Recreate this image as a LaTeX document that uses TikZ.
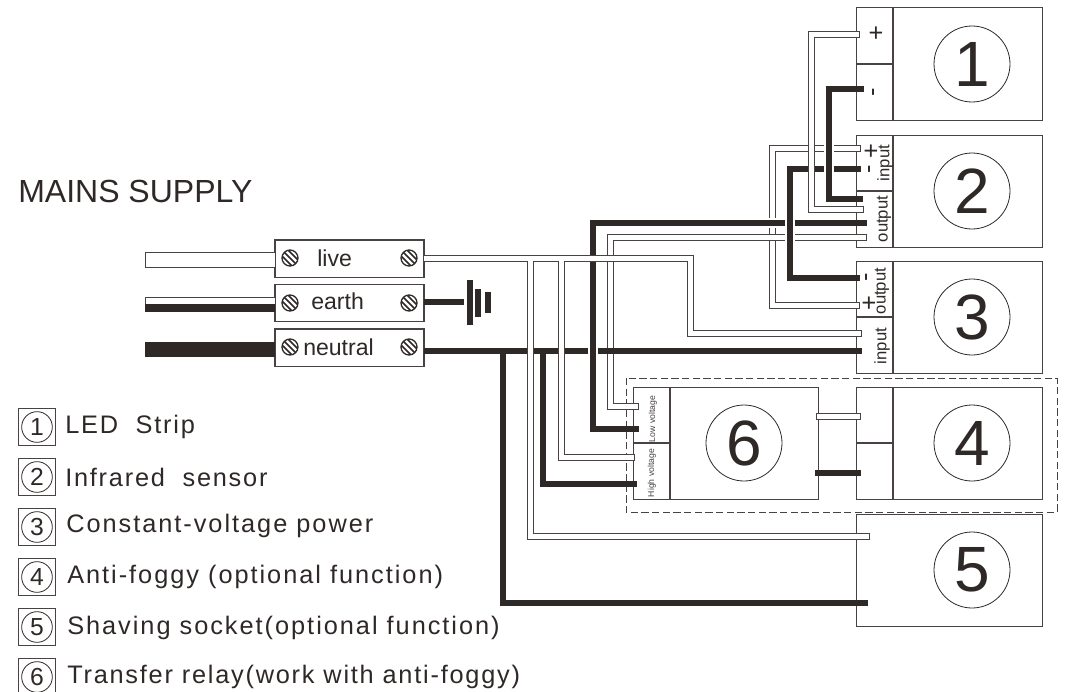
\documentclass[tikz,border=0pt]{standalone}
\usepackage{fontspec}
\setmainfont{Liberation Sans}
\newfontfamily\legendfont[LetterSpace=7]{Liberation Sans}
\newfontfamily\widelegendfont[LetterSpace=7.8]{Liberation Sans}
\usetikzlibrary{positioning,calc}
\definecolor{wirecolor}{HTML}{2E2826}
\definecolor{linecolor}{HTML}{484242}
\tikzset{
  unit/.style={draw=linecolor, line width=0.75pt, inner sep=0pt, outer sep=0pt,
    minimum width=139.5pt, minimum height=84pt},
  divider/.style={draw=linecolor, line width=1pt},
  terminal/.style={draw=linecolor, line width=1pt, inner sep=0pt, outer sep=0pt,
    minimum width=111.75pt, minimum height=28pt},
  bignum/.style={circle, draw=wirecolor, line width=0.6pt, inner sep=0pt,
    minimum size=57pt, text=wirecolor, font=\fontsize{48pt}{48pt}\selectfont},
  keybox/.style={draw=linecolor, line width=0.75pt, inner sep=0pt, minimum size=28pt},
  keynum/.style={circle, draw=wirecolor, line width=0.6pt, inner sep=0pt,
    minimum size=23pt, text=wirecolor, font=\fontsize{18.5pt}{19pt}\selectfont},
  keytext/.style={anchor=base west, inner sep=0pt, text=wirecolor,
    font=\legendfont\fontsize{19pt}{21pt}\selectfont},
  widekeytext/.style={keytext, font=\widelegendfont\fontsize{19pt}{21pt}\selectfont},
  pinmark/.style={inner sep=0pt, text=wirecolor, font=\fontsize{19pt}{20pt}\selectfont},
  pinname/.style={rotate=90, inner sep=0pt, text=wirecolor, font=\fontsize{12.5pt}{14pt}\selectfont},
  tinyname/.style={rotate=90, inner sep=0pt, text=linecolor, font=\fontsize{6.5pt}{8pt}\selectfont},
  termname/.style={anchor=base west, inner sep=0pt, text=wirecolor, font=\fontsize{17.3pt}{18pt}\selectfont},
  screw/.style={circle, draw=wirecolor, line width=1pt, inner sep=0pt, minimum size=12pt,
    path picture={
      \draw[wirecolor, line width=1.2pt] ($(path picture bounding box.center)+(-9,-9)$) -- +(18,18);
      \draw[wirecolor, line width=1.2pt] ($(path picture bounding box.center)+(-6,-12)$) -- +(18,18);
      \draw[wirecolor, line width=1.2pt] ($(path picture bounding box.center)+(-12,-6)$) -- +(18,18);
    }},
  blackwire/.style={draw=wirecolor, line width=4.6pt},
  blackhalo/.style={blackwire, preaction={draw=white, line width=7pt, shorten <=12pt, shorten >=12pt}},
  whitewire/.style={draw=linecolor, line width=5.25pt,
    postaction={draw=white, line width=3.75pt, shorten <=0.75pt, shorten >=0.75pt}},
  whitebranch/.style={draw=linecolor, line width=5.25pt, shorten <=2.5pt,
    postaction={draw=white, line width=3.75pt, shorten <=0pt, shorten >=0.75pt}},
}
\begin{document}
\begin{tikzpicture}[x=0.75pt, y=-0.75pt]
    \useasboundingbox (0,0) rectangle (1067,692);
    % units on the right
    \node[unit] (led) at (949,64) {};
    \node[unit] (sensor) at (949,191) {};
    \node[unit] (power) at (949,317) {};
    \node[unit] (foggy) at (949,443.5) {};
    \node[unit] (socket) at (949,570) {};
    \node[unit, minimum width=138.75pt] (relay) at (725.5,443.5) {};
    \draw[divider] (893,8) -- (893,120) (856,64) -- (893,64);
    \draw[divider] (893,135) -- (893,247) (856,191) -- (893,191);
    \draw[divider] (893,261) -- (893,373) (856,317) -- (893,317);
    \draw[divider] (893,388) -- (893,499) (856,443) -- (893,443);
    \draw[divider] (670,388) -- (670,499) (633,443) -- (670,443);
    \node[bignum] (num1) at (972,64) {1};
    \node[bignum] (num2) at (972,191) {2};
    \node[bignum] (num3) at (972,317) {3};
    \node[bignum] (num4) at (972,443) {4};
    \node[bignum] (num5) at (972,570) {5};
    \node[bignum] (num6) at (744,443) {6};
    \draw[linecolor, line width=0.75pt, dash pattern=on 5.5pt off 2.5pt] (626,378) rectangle (1057,512);
    % labels on the pins
    \node[pinmark] (lp) at (876,34) {+};
    \node[pinmark, rotate=90] (lm) at (876,92) {-};
    \node[pinmark, rotate=90] (sp) at (872,151) {+};
    \node[pinmark, rotate=90] (sm) at (872,169) {-};
    \node[pinname] (sin) at (885,163) {input};
    \node[pinname] (sout) at (884,219) {output};
    \node[pinmark, rotate=90] (pm) at (869,277) {-};
    \node[pinmark, rotate=90] (pp) at (870,303) {+};
    \node[pinname] (pout) at (882,291) {output};
    \node[pinname] (pin) at (882,346) {input};
    \node[tinyname] (rlow) at (653,419) {Low voltage};
    \node[tinyname] (rhigh) at (652,473) {High voltage};
    % terminals
    \node[terminal] (live) at (349.5,258.5) {};
    \node[terminal] (earth) at (349.5,303) {};
    \node[terminal] (neutral) at (349.5,347.5) {};
    \node[screw] (liveL) at (290,258) {};
    \node[screw] (liveR) at (409,258) {};
    \node[screw] (earthL) at (290,303) {};
    \node[screw] (earthR) at (409,303) {};
    \node[screw] (neutralL) at (290,347) {};
    \node[screw] (neutralR) at (409,347) {};
    \node[termname] (livet) at (317,266) {live};
    \node[termname] (eartht) at (311,309) {earth};
    \node[termname] (neutralt) at (303,355) {neutral};
    % mains wires
    \draw[draw=linecolor, fill=white, line width=0.75pt] (145,252) rectangle (275,267);
    \draw[draw=linecolor, fill=white, line width=0.75pt] (145,297) rectangle (275,304);
    \fill[wirecolor] (145,304) rectangle (275,312);
    \fill[wirecolor] (145,342) rectangle (275,357);
    % ground
    \node[coordinate] (gnd) at (464,302) {};
    \draw[blackwire] (earth.east |- gnd) -- (gnd);
    \fill[wirecolor] (467,280) rectangle (473,325);
    \fill[wirecolor] (475,289) rectangle (481,317);
    \fill[wirecolor] (485,292) rectangle (491,313);
    % pin ends
    \node[coordinate] (A) at (860,35) {};
    \node[coordinate] (B) at (864,209) {};
    \node[coordinate] (C) at (864,89) {};
    \node[coordinate] (D) at (863,199) {};
    \node[coordinate] (E) at (861,148) {};
    \node[coordinate] (F) at (860,305) {};
    \node[coordinate] (G) at (861,169) {};
    \node[coordinate] (H) at (860,278) {};
    \node[coordinate] (J) at (867,223) {};
    \node[coordinate] (K) at (639,429) {};
    \node[coordinate] (L) at (867,237) {};
    \node[coordinate] (M) at (639,406) {};
    \node[coordinate] (N) at (862,333) {};
    \node[coordinate] (P) at (862,351) {};
    \node[coordinate] (Q) at (868,603) {};
    \node[coordinate] (R) at (637,484) {};
    \node[coordinate] (S) at (870,536) {};
    \node[coordinate] (T) at (635,457) {};
    \node[coordinate] (U) at (423,258) {};
    \node[coordinate] (V) at (424,351) {};
    \node[coordinate] (tapA) at (503,351) {};
    \node[coordinate] (tapB) at (543,351) {};
    \node[coordinate] (tapC) at (530,258) {};
    \node[coordinate] (tapD) at (561,258) {};
    % wires, lowest first
    \draw[whitewire] (E) -- (772,148) -- (772,305) -- (F);
    \draw[whitewire] (L) -- (610,237) -- (610,406) -- (M);
    \draw[blackwire] (V) -- (P);
    \draw[blackwire] (tapA) |- (Q);
    \draw[blackwire] (tapB) |- (R);
    \draw[blackhalo] (J) -- (593,223) -- (593,429) -- (K);
    \draw[whitewire] (U) -- (690,258) -- (690,333) -- (N);
    \draw[whitebranch] (tapC) |- (S);
    \draw[whitebranch] (tapD) |- (T);
    \draw[blackhalo] (G) -- (790,169) -- (790,278) -- (H);
    \draw[whitewire] (A) -- (811,35) -- (811,209) -- (B);
    \draw[blackhalo] (C) -- (829,89) -- (829,199) -- (D);
    % between relay and anti-foggy
    \node[coordinate] (W1) at (816,416) {};
    \node[coordinate] (W2) at (861,416) {};
    \node[coordinate] (X1) at (815,473) {};
    \node[coordinate] (X2) at (861,473) {};
    \draw[whitewire] (W1) -- (W2);
    \draw[blackwire] (X1) -- (X2);
    % heading and key
    \node[anchor=base west, inner sep=0pt, text=wirecolor, font=\fontsize{24pt}{26pt}\selectfont] (mains) at (18,202) {MAINS SUPPLY};
    \node[keybox] (box1) at (37,427) {};
    \node[keybox] (box2) at (37,477) {};
    \node[keybox] (box3) at (37,527) {};
    \node[keybox] (box4) at (37,577) {};
    \node[keybox] (box5) at (37,627) {};
    \node[keybox] (box6) at (37,677) {};
    \node[keynum] (key1) at (37,427) {1};
    \node[keynum] (key2) at (37,477) {2};
    \node[keynum] (key3) at (37,527) {3};
    \node[keynum] (key4) at (37,577) {4};
    \node[keynum] (key5) at (37,627) {5};
    \node[keynum] (key6) at (37,677) {6};
    \node[keytext] (text1) at (65,433) {LED\ \ Strip};
    \node[keytext] (text2) at (65,486) {Infrared\ \ sensor};
    \node[widekeytext] (text3) at (66,532) {Constant-voltage power};
    \node[widekeytext] (text4) at (67,583) {Anti-foggy (optional function)};
    \node[widekeytext] (text5) at (67,634) {Shaving socket(optional function)};
    \node[keytext] (text6) at (67,683) {Transfer relay(work with anti-foggy)};
\end{tikzpicture}
\end{document}
